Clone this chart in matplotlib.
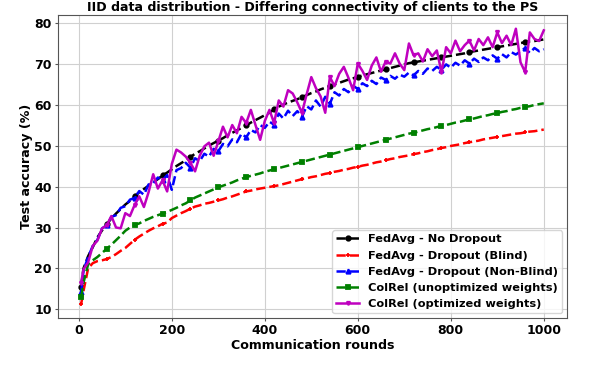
import matplotlib
matplotlib.use("Agg")
import matplotlib.pyplot as plt

rounds = [5] + list(range(10, 1001, 10))

no_dropout = [
    15.5, 20.0, 23.0, 25.2, 27.6, 29.3, 30.8, 32.2, 33.4, 34.5, 35.6,
    36.5, 37.6, 38.6, 39.4, 40.2, 41.0, 41.8, 42.7, 43.4, 44.2,
    45.0, 45.7, 46.4, 47.2, 48.0, 48.6, 49.3, 50.0, 50.6, 51.2,
    51.8, 52.5, 53.1, 53.7, 54.3, 54.9, 55.6, 56.2, 56.8, 57.4,
    58.0, 58.8, 59.5, 60.0, 60.5, 60.9, 61.3, 61.8, 62.3, 62.8,
    63.2, 63.7, 64.1, 64.5, 64.9, 65.3, 65.7, 66.1, 66.4, 66.8,
    67.1, 67.4, 67.7, 68.0, 68.3, 68.6, 68.9, 69.2, 69.5, 69.8,
    70.1, 70.3, 70.5, 70.7, 70.9, 71.1, 71.3, 71.5, 71.7, 71.9,
    72.1, 72.3, 72.5, 72.8, 73.0, 73.2, 73.4, 73.6, 73.8, 74.0,
    74.2, 74.4, 74.6, 74.8, 75.0, 75.2, 75.4, 75.5, 75.7, 75.9,
]
dropout_blind = [
    11.3, 14.5, 20.0, 21.3, 21.8, 22.0, 22.3, 22.8, 23.5, 24.3, 25.0,
    26.0, 27.0, 27.8, 28.5, 29.2, 29.8, 30.3, 30.9, 31.2, 32.3,
    32.9, 33.5, 34.0, 34.6, 35.1, 35.4, 35.8, 36.0, 36.3, 36.6,
    36.9, 37.3, 37.6, 38.0, 38.4, 38.8, 39.0, 39.3, 39.5, 39.7,
    39.9, 40.1, 40.3, 40.6, 40.9, 41.2, 41.5, 41.8, 42.0, 42.3,
    42.5, 42.8, 43.1, 43.3, 43.6, 43.8, 44.1, 44.3, 44.6, 44.8,
    45.1, 45.3, 45.6, 45.9, 46.1, 46.4, 46.7, 46.9, 47.2, 47.4,
    47.6, 47.9, 48.1, 48.4, 48.6, 48.9, 49.1, 49.4, 49.6, 49.9,
    50.1, 50.3, 50.6, 50.8, 51.0, 51.2, 51.5, 51.7, 51.9, 52.1,
    52.3, 52.5, 52.7, 52.9, 53.0, 53.2, 53.4, 53.5, 53.7, 53.9,
]
dropout_nonblind = [
    14.2, 19.5, 22.8, 25.5, 27.0, 29.8, 30.5, 32.6, 33.0, 34.8, 35.2,
    36.8, 37.2, 38.9, 38.0, 40.5, 40.8, 42.2, 41.5, 42.8, 39.2,
    44.0, 44.5, 45.8, 44.6, 46.9, 46.2, 48.0, 47.3, 49.2, 48.6,
    50.4, 49.8, 51.5, 50.8, 52.9, 52.0, 53.8, 53.2, 55.0, 54.3,
    55.8, 55.1, 57.8, 56.6, 58.5, 57.2, 58.4, 57.0, 59.6, 58.8,
    61.0, 59.5, 61.9, 60.2, 63.0, 62.2, 63.8, 63.0, 64.6, 63.8,
    65.2, 64.5, 65.8, 65.0, 66.6, 66.0, 67.0, 66.3, 67.3, 66.8,
    67.8, 67.1, 68.2, 67.5, 68.8, 68.2, 69.2, 68.5, 69.8, 69.0,
    70.2, 69.5, 70.8, 70.0, 71.2, 70.4, 71.5, 70.8, 72.0, 71.2,
    72.3, 71.5, 72.8, 72.2, 73.0, 73.8, 72.6, 73.8, 73.0, 73.5,
]
colrel_unopt = [
    13.0, 16.5, 21.0, 22.0, 22.8, 23.8, 24.8, 25.8, 26.9, 28.0, 29.2,
    30.0, 30.6, 31.0, 31.6, 32.1, 32.6, 33.0, 33.4, 33.8, 34.3,
    34.8, 35.4, 35.9, 36.6, 37.3, 37.8, 38.3, 38.8, 39.3, 39.8,
    40.2, 40.6, 41.0, 41.5, 41.9, 42.3, 42.6, 42.9, 43.2, 43.6,
    43.9, 44.2, 44.5, 44.8, 45.1, 45.4, 45.7, 46.0, 46.3, 46.6,
    46.9, 47.2, 47.5, 47.8, 48.1, 48.4, 48.7, 49.0, 49.3, 49.6,
    49.9, 50.2, 50.5, 50.8, 51.1, 51.4, 51.7, 52.0, 52.3, 52.6,
    52.9, 53.1, 53.4, 53.7, 54.0, 54.2, 54.5, 54.8, 55.0, 55.3,
    55.6, 55.8, 56.1, 56.4, 56.6, 56.9, 57.2, 57.4, 57.7, 57.9,
    58.2, 58.4, 58.7, 58.9, 59.2, 59.4, 59.6, 59.9, 60.1, 60.3,
]
colrel_opt = [
    16.5, 19.8, 21.5, 25.5, 26.8, 29.8, 30.5, 32.8, 30.0, 29.8, 33.5,
    32.8, 35.5, 37.6, 35.0, 38.6, 43.0, 39.5, 41.5, 38.8, 45.5,
    49.0, 48.3, 47.3, 45.8, 43.7, 47.5, 49.8, 50.7, 47.5, 51.0,
    54.6, 52.0, 55.0, 53.0, 57.0, 55.5, 58.7, 55.0, 51.4, 56.0,
    58.7, 55.5, 61.0, 59.5, 63.5, 62.7, 60.5, 58.0, 62.5, 66.7,
    64.0, 62.0, 58.0, 66.7, 64.5, 67.5, 69.2, 66.5, 63.5, 70.0,
    68.2, 66.0, 69.5, 71.5, 68.0, 70.5, 70.0, 72.5, 70.0, 68.4,
    74.9, 72.0, 72.5, 70.5, 73.5, 71.8, 73.2, 67.9, 74.0, 72.5,
    75.6, 73.0, 74.5, 75.6, 73.2, 76.0, 74.5, 76.4, 74.0, 77.6,
    75.0, 76.8, 74.5, 78.5, 70.3, 67.9, 77.6, 76.0, 75.5, 78.1,
]

series = [
    ("FedAvg - No Dropout", no_dropout, "k", "--", "o"),
    ("FedAvg - Dropout (Blind)", dropout_blind, "r", "--", "+"),
    ("FedAvg - Dropout (Non-Blind)", dropout_nonblind, "b", "--", "^"),
    ("ColRel (unoptimized weights)", colrel_unopt, "g", "--", "s"),
    ("ColRel (optimized weights)", colrel_opt, "m", "-", "v"),
]

plt.rcParams["font.family"] = "DejaVu Sans"
plt.rcParams["font.weight"] = "bold"

fig = plt.figure(figsize=(5.98, 3.65), dpi=100)
ax = fig.add_axes([0.097, 0.129, 0.851, 0.830])

for label, vals, col, ls, mk in series:
    ms = 2.5 if mk == "v" else 3.2
    ax.plot(rounds, vals, color=col, linestyle=ls, marker=mk, markersize=ms,
            markeredgewidth=1.3, markevery=6, linewidth=1.8, label=label)

ax.set_xticks([0, 200, 400, 600, 800, 1000])
ax.set_yticks([10, 20, 30, 40, 50, 60, 70, 80])
ax.tick_params(labelsize=9, length=2.5, pad=2, color="#555555")
for t in ax.get_xticklabels() + ax.get_yticklabels():
    t.set_fontweight("bold")
ax.grid(color="#d0d0d0", linewidth=0.8)
ax.set_axisbelow(True)
for s in ax.spines.values():
    s.set_color("#555555")

ax.set_xlabel("Communication rounds", fontsize=9.1, fontweight="bold", labelpad=1)
ax.set_ylabel("Test accuracy (%)", fontsize=9.1, fontweight="bold", labelpad=1)
ax.set_title("IID data distribution - Differing connectivity of clients to the PS",
             fontsize=9.1, fontweight="bold", pad=3)
ax.legend(loc="lower right", prop={"weight": "bold", "size": 8.2},
          handlelength=2.0, borderpad=0.35, labelspacing=0.55, borderaxespad=0.4)

fig.savefig("out.png", dpi=100)
